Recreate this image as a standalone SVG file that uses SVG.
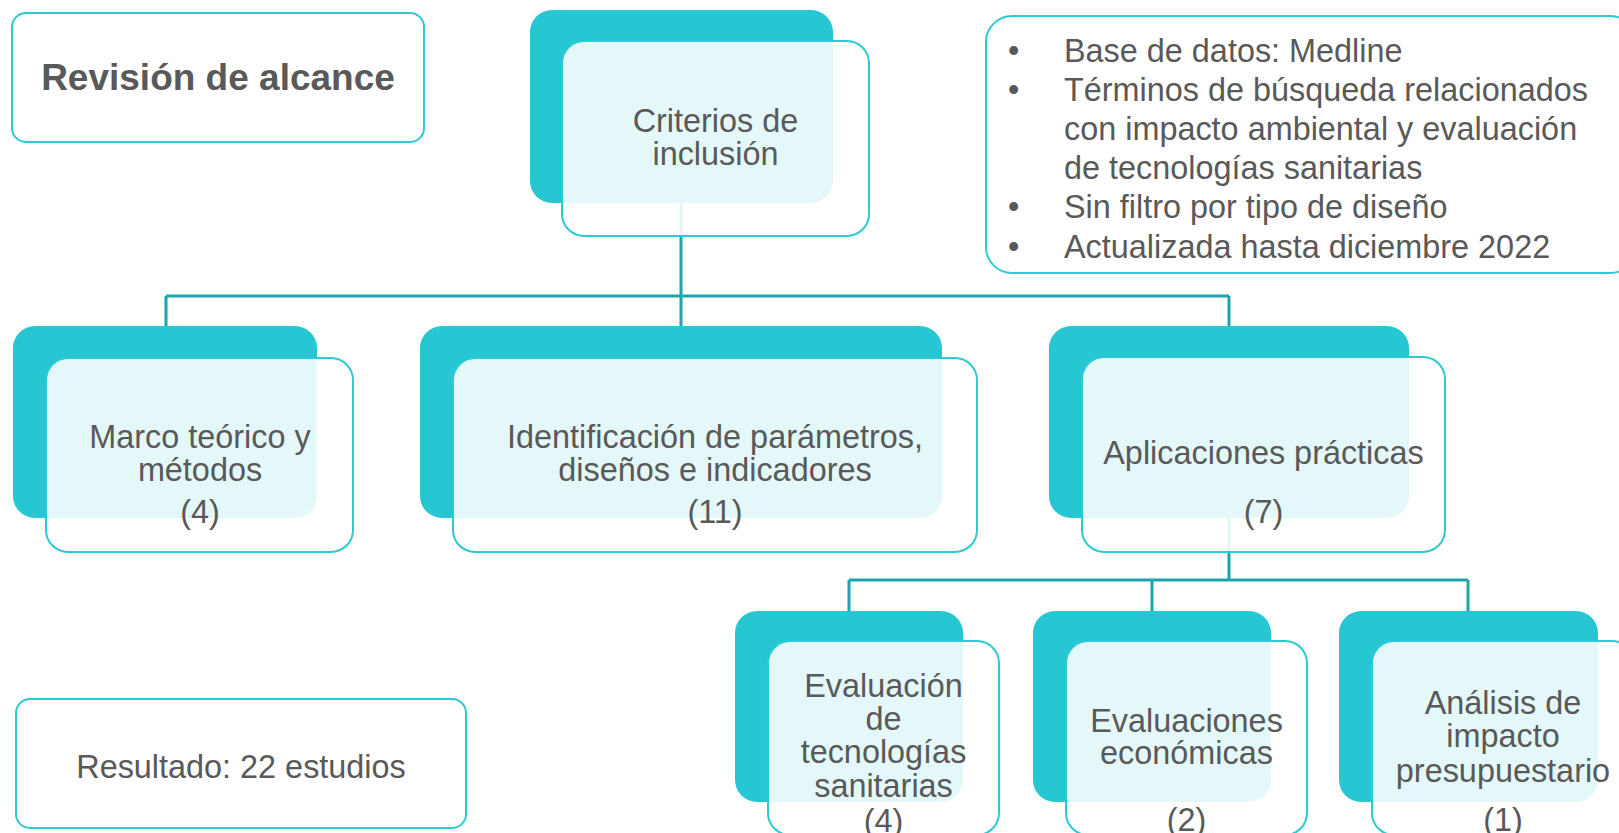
<svg xmlns="http://www.w3.org/2000/svg" width="1619" height="833" viewBox="0 0 1619 833">
<defs>
<style>
.t{font-family:"Liberation Sans",Arial,sans-serif;font-size:32.4px;fill:#595959;text-anchor:middle}
.tl{font-family:"Liberation Sans",Arial,sans-serif;font-size:32.4px;fill:#595959}
.title{font-family:"Liberation Sans",Arial,sans-serif;font-size:37px;font-weight:bold;fill:#595959;text-anchor:middle}
.back{fill:#26C7D2}
.front{fill:#ffffff;fill-opacity:0.88;stroke:#2CCAD5;stroke-width:2}
.box{fill:#ffffff;stroke:#2CCAD5;stroke-width:2}
.con{fill:none;stroke:#1BA5AC;stroke-width:3}
</style>
</defs>
<rect width="1619" height="833" fill="#ffffff"/>
<g id="connectors">
<path class="con" d="M681 203 V296 M166 296 H1229 M166 296 V326 M681 296 V326 M1229 296 V326"/>
<path class="con" d="M1229 518 V580 M849 580 H1468 M849 580 V611 M1152 580 V611 M1468 580 V611"/>
</g>
<g id="revision">
<rect class="box" x="12" y="13" width="412" height="129" rx="14"/>
<text class="title" x="218" y="90">Revisión de alcance</text>
</g>
<g id="criterios">
<rect class="back" x="530" y="10" width="303" height="193" rx="22"/>
<rect class="front" x="562" y="41" width="307" height="195" rx="22"/>
<text class="t" x="715.5" y="132">Criterios de</text>
<text class="t" x="715.5" y="165">inclusión</text>
</g>
<g id="busqueda">
<rect class="box" x="986" y="16" width="650" height="257" rx="26"/>
<text class="tl" x="1008" y="62">•</text>
<text class="tl" x="1064" y="62">Base de datos: Medline</text>
<text class="tl" x="1008" y="101">•</text>
<text class="tl" x="1064" y="101">Términos de búsqueda relacionados</text>
<text class="tl" x="1064" y="140">con impacto ambiental y evaluación</text>
<text class="tl" x="1064" y="179">de tecnologías sanitarias</text>
<text class="tl" x="1008" y="218">•</text>
<text class="tl" x="1064" y="218">Sin filtro por tipo de diseño</text>
<text class="tl" x="1008" y="258">•</text>
<text class="tl" x="1064" y="258">Actualizada hasta diciembre 2022</text>
</g>
<g id="marco">
<rect class="back" x="13" y="326" width="304" height="192" rx="22"/>
<rect class="front" x="46" y="358" width="307" height="194" rx="22"/>
<text class="t" x="200" y="448">Marco teórico y</text>
<text class="t" x="200" y="481">métodos</text>
<text class="t" x="200" y="523">(4)</text>
</g>
<g id="identificacion">
<rect class="back" x="420" y="326" width="522" height="192" rx="22"/>
<rect class="front" x="453" y="358" width="524" height="194" rx="22"/>
<text class="t" x="715" y="448">Identificación de parámetros,</text>
<text class="t" x="715" y="481">diseños e indicadores</text>
<text class="t" x="715" y="523">(11)</text>
</g>
<g id="aplicaciones">
<rect class="back" x="1049" y="326" width="360" height="192" rx="22"/>
<rect class="front" x="1082" y="357" width="363" height="195" rx="22"/>
<text class="t" x="1263.5" y="464">Aplicaciones prácticas</text>
<text class="t" x="1263.5" y="523">(7)</text>
</g>
<g id="evaluacion">
<rect class="back" x="735" y="611" width="228" height="191" rx="22"/>
<rect class="front" x="768" y="641" width="231" height="194" rx="22"/>
<text class="t" x="883.5" y="697">Evaluación</text>
<text class="t" x="883.5" y="730">de</text>
<text class="t" x="883.5" y="763">tecnologías</text>
<text class="t" x="883.5" y="797">sanitarias</text>
<text class="t" x="883.5" y="832">(4)</text>
</g>
<g id="economicas">
<rect class="back" x="1033" y="611" width="238" height="191" rx="22"/>
<rect class="front" x="1066" y="641" width="241" height="194" rx="22"/>
<text class="t" x="1186.5" y="732">Evaluaciones</text>
<text class="t" x="1186.5" y="764">económicas</text>
<text class="t" x="1186.5" y="831">(2)</text>
</g>
<g id="analisis">
<rect class="back" x="1339" y="611" width="259" height="191" rx="22"/>
<rect class="front" x="1372" y="641" width="262" height="194" rx="22"/>
<text class="t" x="1503" y="714">Análisis de</text>
<text class="t" x="1503" y="747">impacto</text>
<text class="t" x="1503" y="782">presupuestario</text>
<text class="t" x="1503" y="831">(1)</text>
</g>
<g id="resultado">
<rect class="box" x="16" y="699" width="450" height="129" rx="14"/>
<text class="t" x="241" y="778">Resultado: 22 estudios</text>
</g>
</svg>
